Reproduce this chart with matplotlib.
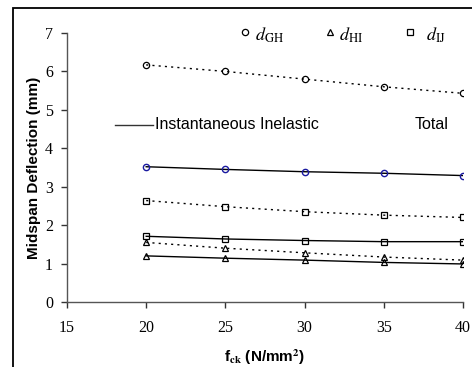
import matplotlib
matplotlib.use("Agg")
import matplotlib.pyplot as plt
from matplotlib.lines import Line2D
from matplotlib.patches import Rectangle

fck = [20, 25, 30, 35, 40]
gh_total = [6.17, 6.00, 5.80, 5.60, 5.43]
gh_inst = [3.52, 3.45, 3.39, 3.35, 3.29]
ij_total = [2.64, 2.48, 2.35, 2.26, 2.20]
ij_inst = [1.71, 1.64, 1.60, 1.57, 1.57]
hi_total = [1.55, 1.40, 1.28, 1.17, 1.09]
hi_inst = [1.20, 1.14, 1.09, 1.03, 0.99]
xticks = [15, 20, 25, 30, 35, 40]
yticks = [0, 1, 2, 3, 4, 5, 6, 7]

plt.rcParams['mathtext.fontset'] = 'stix'

fig = plt.figure(figsize=(4.72, 3.67), dpi=100)
ax = fig.add_axes([67/472, 1-302/367, 396/472, 269/367])

# outer border (top and left visible)
fig.patches.append(Rectangle((13/472, -0.1), 1.2, 1-8/367+0.1, transform=fig.transFigure,
                             fill=False, edgecolor='black', linewidth=1.3))

ms = 4.5
dot = (0, (1.5, 3))
ax.plot(fck, gh_total, ls=dot, color='black', lw=1.0, marker='o', ms=ms, mfc='none', mec='black', mew=0.9)
ax.plot(fck, gh_inst, ls='-', color='black', lw=1.0, marker='o', ms=ms, mfc='none', mec='#1a1aa0', mew=1.0)
ax.plot(fck, ij_total, ls=dot, color='black', lw=1.0, marker='s', ms=ms, mfc='none', mec='black', mew=0.9)
ax.plot(fck, ij_inst, ls='-', color='black', lw=1.0, marker='s', ms=ms, mfc='none', mec='black', mew=0.9)
ax.plot(fck, hi_total, ls=dot, color='black', lw=1.0, marker='^', ms=ms+0.5, mfc='none', mec='black', mew=0.9)
ax.plot(fck, hi_inst, ls='-', color='black', lw=1.0, marker='^', ms=ms+0.5, mfc='none', mec='black', mew=0.9)

ax.set_xlim(15, 40)
ax.set_ylim(0, 7)
ax.set_xticks(xticks)
ax.set_yticks(yticks)
for s in ['top', 'right']:
    ax.spines[s].set_visible(False)
for s in ['left', 'bottom']:
    ax.spines[s].set_color('#555555')
    ax.spines[s].set_linewidth(1.0)
ax.tick_params(direction='out', length=4, color='#333333', width=1.0)
for lab in ax.get_xticklabels() + ax.get_yticklabels():
    lab.set_fontfamily('Liberation Serif')
    lab.set_fontsize(11.5)
ax.tick_params(axis='x', pad=9)
ax.tick_params(axis='y', pad=6)

ax.set_xlabel(r'f$_{\mathbf{ck}}$ (N/mm$^{\mathbf{2}}$)', fontfamily='Liberation Sans', fontweight='bold', fontsize=11, labelpad=8)
ax.set_ylabel('Midspan Deflection (mm)', fontfamily='Liberation Sans', fontweight='bold', fontsize=11, labelpad=3)

# legend-like annotations
tr = ax.transAxes
ax.add_line(Line2D([0.449], [1.003], transform=tr, marker='o', ms=4.5, mfc='none', mec='black', mew=0.9, clip_on=False))
ax.text(0.475, 0.99, r'$d_{\mathrm{GH}}$', transform=tr, fontsize=13, va='center', ha='left')
ax.add_line(Line2D([0.664], [1.003], transform=tr, marker='^', ms=4.5, mfc='none', mec='black', mew=0.9, clip_on=False))
ax.text(0.686, 0.99, r'$d_{\mathrm{HI}}$', transform=tr, fontsize=13, va='center', ha='left')
ax.add_line(Line2D([0.866], [1.003], transform=tr, marker='s', ms=4.5, mfc='none', mec='black', mew=0.9, clip_on=False))
ax.text(0.906, 0.99, r'$d_{\mathrm{IJ}}$', transform=tr, fontsize=13, va='center', ha='left')

ax.add_line(Line2D([0.121, 0.217], [0.658, 0.658], transform=tr, color='#333333', lw=1.0))
ax.text(0.221, 0.658, 'Instantaneous Inelastic', transform=tr, fontsize=11.5, fontfamily='Liberation Sans', va='center', ha='left')
ax.text(0.879, 0.658, 'Total', transform=tr, fontsize=11.5, fontfamily='Liberation Sans', va='center', ha='left')

fig.savefig('out.png', dpi=100)
